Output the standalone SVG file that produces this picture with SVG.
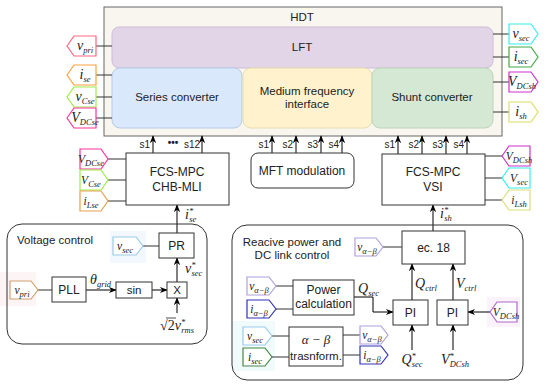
<svg xmlns="http://www.w3.org/2000/svg" width="550" height="387" viewBox="0 0 550 387">
<defs>
<marker id="ah" viewBox="0 0 10 10" refX="9" refY="5" markerWidth="8" markerHeight="8" orient="auto" markerUnits="userSpaceOnUse">
<path d="M0,1 L10,5 L0,9 L3,5 Z" fill="#000"/>
</marker>
<style>
.box{fill:#fff;stroke:#333;stroke-width:1}
.t{font-family:"Liberation Sans",Arial,sans-serif;font-size:11.5px;fill:#222;text-anchor:middle}
.b{font-size:12px}
.lbl{font-family:"Liberation Sans",Arial,sans-serif;font-size:10px;fill:#222;text-anchor:end}
.m{font-family:"Liberation Serif","Times New Roman",serif;font-style:italic;font-size:14px;fill:#222;text-anchor:middle}
.ms{font-size:11.5px}
.s{font-size:8.5px}
.ln{stroke:#333;stroke-width:1;fill:none}
.ar{stroke:#000;stroke-width:1;fill:none;marker-end:url(#ah)}
.tag{fill:#fff;stroke-width:1.2}
</style>
</defs>

<!-- faint highlights -->
<rect x="0" y="272" width="36" height="34" fill="#fdf5f5"/>
<rect x="110" y="231" width="36" height="32" fill="#f2f8fd"/>
<rect x="233" y="321" width="42" height="50" fill="#f2fbfc"/>
<rect x="487" y="297" width="33" height="30" fill="#fbf3fb"/>

<!-- HDT -->
<g id="hdt">
<rect x="104" y="7" width="398" height="129" fill="#f8f6ee" stroke="#666" stroke-width="1"/>
<text class="t" x="302" y="21">HDT</text>
</g>
<g id="lft">
<rect x="112" y="27" width="381" height="41" rx="7" fill="#e1d5e7" stroke="#cdbcd9" stroke-width="1"/>
<text class="t" x="302" y="51">LFT</text>
</g>
<g id="series">
<rect x="112" y="68" width="130" height="60" rx="8" fill="#dae8fc" stroke="#b6cbe8" stroke-width="1"/>
<text class="t" x="177" y="101">Series converter</text>
</g>
<g id="mfi">
<rect x="243" y="68" width="129" height="60" rx="8" fill="#fff2cc" stroke="#eadcb0" stroke-width="1"/>
<text class="t" x="307" y="95">Medium frequency</text>
<text class="t" x="307" y="108">interface</text>
</g>
<g id="shunt">
<rect x="372" y="68" width="121" height="60" rx="8" fill="#d5e8d4" stroke="#bcd4bb" stroke-width="1"/>
<text class="t" x="432" y="101">Shunt converter</text>
</g>

<!-- Connectors -->
<g id="connectors">
<path class="ln" d="M96,46H112M96,75H112M96,97H112M96,118H112"/>
<path class="ln" d="M493,34H509M493,57H509M493,82H509M493,112H509"/>
<path class="ln" d="M108,159H126M108,180H126M108,201H126"/>
<path class="ln" d="M485,156H502M485,178H502M485,200H502"/>
<path class="ar" d="M153,153V136"/>
<path class="ar" d="M202,153V136"/>
<path class="ar" d="M272,153V136"/>
<path class="ar" d="M296,153V136"/>
<path class="ar" d="M321,153V136"/>
<path class="ar" d="M342,153V136"/>
<path class="ar" d="M398,154V136"/>
<path class="ar" d="M422,154V136"/>
<path class="ar" d="M446,154V136"/>
<path class="ar" d="M467,154V136"/>
<path class="ar" d="M177,233V205"/>
<path class="ar" d="M433,231V205"/>
<!-- voltage control -->
<path class="ln" d="M143,246H159M38,290H52"/>
<path class="ar" d="M86,290H116"/>
<path class="ar" d="M152,290H167"/>
<path class="ar" d="M177,282V258"/>
<path class="ar" d="M177,313V298"/>
<!-- reactive -->
<path class="ln" d="M383,247H402M276,286H293M276,309H293M272,336H289M272,357H289M343,335H360M343,355H360"/>
<path class="ar" d="M354,297H373V312H393"/>
<path class="ar" d="M412,300V264"/>
<path class="ar" d="M453,300V264"/>
<path class="ar" d="M412,350V325"/>
<path class="ar" d="M453,350V325"/>
<path class="ar" d="M490,312H468"/>
</g>

<!-- labels s -->
<g id="slabels">
<text class="lbl" x="150" y="148">s1</text>
<text class="lbl" x="200" y="148">s12</text>
<text class="t" x="173" y="146" style="font-weight:bold;font-size:10px">•••</text>
<text class="lbl" x="269" y="148">s1</text>
<text class="lbl" x="293" y="148">s2</text>
<text class="lbl" x="318" y="148">s3</text>
<text class="lbl" x="339" y="148">s4</text>
<text class="lbl" x="395" y="148">s1</text>
<text class="lbl" x="419" y="148">s2</text>
<text class="lbl" x="443" y="148">s3</text>
<text class="lbl" x="464" y="148">s4</text>
</g>

<!-- HDT left tags (point left) -->
<g id="tag-vpri"><polygon class="tag" stroke="#ff6680" points="67,46 74,36 96,36 96,56 74,56"/><text class="m" x="85" y="50">v<tspan class="s" dy="3">pri</tspan></text></g>
<g id="tag-ise"><polygon class="tag" stroke="#ffa040" points="67,75 74,65 96,65 96,85 74,85"/><text class="m" x="85" y="79">i<tspan class="s" dy="3">se</tspan></text></g>
<g id="tag-vcse"><polygon class="tag" stroke="#99ee44" points="67,97 74,87 96,87 96,107 74,107"/><text class="m" x="85" y="101">v<tspan class="s" dy="3">Cse</tspan></text></g>
<g id="tag-vdcse"><polygon class="tag" stroke="#ff3399" points="67,118 74,108 96,108 96,128 74,128"/><text class="m" x="85" y="122">V<tspan class="s" dy="3">DCse</tspan></text></g>

<!-- HDT right tags (point right) -->
<g id="tag-vsec"><polygon class="tag" stroke="#33eeee" points="509,24 531,24 538,34 531,44 509,44"/><text class="m" x="521" y="38">v<tspan class="s" dy="3">sec</tspan></text></g>
<g id="tag-isec"><polygon class="tag" stroke="#44aa44" points="509,47 531,47 538,57 531,67 509,67"/><text class="m" x="521" y="61">i<tspan class="s" dy="3">sec</tspan></text></g>
<g id="tag-vdcsh"><polygon class="tag" stroke="#cc33cc" points="509,72 531,72 538,82 531,92 509,92"/><text class="m" x="522" y="86">V<tspan class="s" dy="3">DCsh</tspan></text></g>
<g id="tag-ish"><polygon class="tag" stroke="#dddd66" points="509,102 531,102 538,112 531,122 509,122"/><text class="m" x="521" y="116">i<tspan class="s" dy="3">sh</tspan></text></g>

<!-- FCS-MPC CHB-MLI -->
<g id="chb">
<rect class="box" x="126" y="153" width="103" height="52"/>
<text class="t b" x="177" y="176">FCS-MPC</text>
<text class="t b" x="177" y="191">CHB-MLI</text>
</g>
<g id="tag-vdcse2"><polygon class="tag" stroke="#ff3399" points="80,149 101,149 108,159 101,169 80,169"/><text class="m ms" x="91" y="163">V<tspan class="s" dy="3">DCse</tspan></text></g>
<g id="tag-vcse2"><polygon class="tag" stroke="#99ee44" points="80,170 101,170 108,180 101,190 80,190"/><text class="m ms" x="91" y="184">V<tspan class="s" dy="3">Cse</tspan></text></g>
<g id="tag-ilse"><polygon class="tag" stroke="#e6a050" points="80,191 101,191 108,201 101,211 80,211"/><text class="m ms" x="91" y="205">i<tspan class="s" dy="3">Lse</tspan></text></g>
<text class="m" x="185" y="219" style="text-anchor:start">i<tspan class="s" dy="-5">*</tspan><tspan class="s" dx="-4" dy="8">se</tspan></text>

<!-- MFT modulation -->
<g id="mft">
<rect class="box" x="251" y="153" width="103" height="35" rx="7"/>
<text class="t b" x="302" y="175">MFT modulation</text>
</g>

<!-- FCS-MPC VSI -->
<g id="vsi">
<rect class="box" x="382" y="154" width="103" height="51"/>
<text class="t b" x="433" y="176">FCS-MPC</text>
<text class="t b" x="433" y="191">VSI</text>
</g>
<g id="tag-vdcsh2"><polygon class="tag" stroke="#cc33cc" points="502,156 509,146 530,146 530,166 509,166"/><text class="m ms" x="519" y="160">V<tspan class="s" dy="3">DCsh</tspan></text></g>
<g id="tag-vsec2"><polygon class="tag" stroke="#33eeee" points="502,178 509,168 530,168 530,188 509,188"/><text class="m ms" x="519" y="182">V<tspan class="s" dy="3">sec</tspan></text></g>
<g id="tag-ilsh"><polygon class="tag" stroke="#dddd77" points="502,200 509,190 530,190 530,210 509,210"/><text class="m ms" x="519" y="204">i<tspan class="s" dy="3">Lsh</tspan></text></g>
<text class="m" x="440" y="218" style="text-anchor:start">i<tspan class="s" dy="-5">*</tspan><tspan class="s" dx="-4" dy="8">sh</tspan></text>

<!-- Voltage control -->
<g id="voltage-control">
<rect x="7" y="224" width="200" height="120" rx="15" fill="none" stroke="#333" stroke-width="1"/>
<text class="t" x="17" y="244" style="text-anchor:start">Voltage control</text>
</g>
<g id="pr"><rect class="box" x="159" y="233" width="35" height="25"/><text class="t b" x="176.5" y="250">PR</text></g>
<g id="pll"><rect class="box" x="52" y="277" width="34" height="25"/><text class="t b" x="69" y="294">PLL</text></g>
<g id="sin"><rect class="box" x="116" y="282" width="36" height="16"/><text class="t" x="134" y="294">sin</text></g>
<g id="mult"><rect class="box" x="167" y="282" width="20" height="16"/><text class="t" x="177" y="294">X</text></g>
<g id="tag-vsec3"><polygon class="tag" stroke="#99ccee" points="113,237 136,237 143,246 136,255 113,255"/><text class="m ms" x="125" y="250">v<tspan class="s" dy="3">sec</tspan></text></g>
<g id="tag-vpri2"><polygon class="tag" stroke="#d4a070" points="10,281 31,281 38,290 31,299 10,299"/><text class="m ms" x="22" y="294">v<tspan class="s" dy="3">pri</tspan></text></g>
<text class="m" x="90" y="284" style="text-anchor:start">θ<tspan class="s" dy="3">grid</tspan></text>
<text class="m" x="185" y="273" style="text-anchor:start">v<tspan class="s" dy="-5">*</tspan><tspan class="s" dx="-4" dy="8">sec</tspan></text>
<text class="m" x="177" y="330">√<tspan font-style="normal">2</tspan>v<tspan class="s" dy="-5">*</tspan><tspan class="s" dx="-4" dy="8">rms</tspan></text>
<path d="M166,318H176" stroke="#222" stroke-width="0.8"/>

<!-- Reactive power and DC link control -->
<g id="reactive-control">
<rect x="232" y="225" width="291" height="155" rx="15" fill="none" stroke="#333" stroke-width="1"/>
<text class="t" x="292" y="246">Reacive power and</text>
<text class="t" x="292" y="259">DC link control</text>
</g>
<g id="ec18"><rect class="box" x="402" y="231" width="63" height="33"/><text class="t b" x="433.5" y="252">ec. 18</text></g>
<g id="power-calc"><rect class="box" x="293" y="280" width="61" height="35"/><text class="t b" x="323.5" y="294">Power</text><text class="t b" x="323.5" y="308">calculation</text></g>
<g id="ab-transform"><rect class="box" x="289" y="327" width="54" height="39"/><text class="m" x="316" y="344" style="font-size:13px">α − β</text><text class="t" x="316" y="360">trasnform.</text></g>
<g id="pi1"><rect class="box" x="393" y="300" width="35" height="25"/><text class="t b" x="410.5" y="317">PI</text></g>
<g id="pi2"><rect class="box" x="437" y="300" width="31" height="25"/><text class="t b" x="452.5" y="317">PI</text></g>

<g id="tag-vab1"><polygon class="tag" stroke="#b0a0e0" points="355,238 376,238 383,247 376,256 355,256"/><text class="m ms" x="367" y="251">v<tspan class="s" dy="3">α−β</tspan></text></g>
<g id="tag-vab2"><polygon class="tag" stroke="#b0a0e0" points="247,277 269,277 276,286 269,295 247,295"/><text class="m ms" x="259" y="290">v<tspan class="s" dy="3">α−β</tspan></text></g>
<g id="tag-iab2"><polygon class="tag" stroke="#3333bb" points="247,300 269,300 276,309 269,318 247,318"/><text class="m ms" x="259" y="313">i<tspan class="s" dy="3">α−β</tspan></text></g>
<g id="tag-vsec4"><polygon class="tag" stroke="#99ccee" points="243,327 265,327 272,336 265,345 243,345"/><text class="m ms" x="255" y="340">v<tspan class="s" dy="3">sec</tspan></text></g>
<g id="tag-isec4"><polygon class="tag" stroke="#448844" points="243,348 265,348 272,357 265,366 243,366"/><text class="m ms" x="255" y="361">i<tspan class="s" dy="3">sec</tspan></text></g>
<g id="tag-vab3"><polygon class="tag" stroke="#b0a0e0" points="360,326 381,326 388,335 381,344 360,344"/><text class="m ms" x="372" y="339">v<tspan class="s" dy="3">α−β</tspan></text></g>
<g id="tag-iab3"><polygon class="tag" stroke="#3333bb" points="360,346 381,346 388,355 381,364 360,364"/><text class="m ms" x="372" y="359">i<tspan class="s" dy="3">α−β</tspan></text></g>
<g id="tag-vdcsh4"><polygon class="tag" stroke="#b366cc" points="490,312 497,302 517,302 517,322 497,322"/><text class="m ms" x="506" y="316">V<tspan class="s" dy="3">DCsh</tspan></text></g>

<text class="m" x="358" y="293" style="text-anchor:start">Q<tspan class="s" dy="3">sec</tspan></text>
<text class="m" x="415" y="288" style="text-anchor:start">Q<tspan class="s" dy="3">ctrl</tspan></text>
<text class="m" x="456" y="288" style="text-anchor:start">V<tspan class="s" dy="3">ctrl</tspan></text>
<text class="m" x="412" y="364">Q<tspan class="s" dy="-5">*</tspan><tspan class="s" dx="-4" dy="8">sec</tspan></text>
<text class="m" x="455" y="364">V<tspan class="s" dy="-5">*</tspan><tspan class="s" dx="-4" dy="8">DCsh</tspan></text>
</svg>
